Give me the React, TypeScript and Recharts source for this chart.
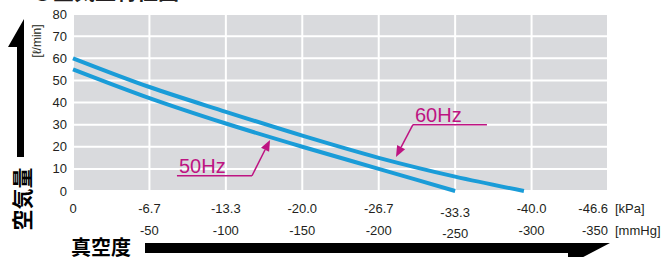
import { LineChart, Line, XAxis, YAxis, CartesianGrid, ReferenceLine } from 'recharts'

// x positions in mmHg (vacuum), y in l/min
const mmHgTicks = [0, 50, 100, 150, 200, 250, 300, 350]
const kPaLabels = ['0', '-6.7', '-13.3', '-20.0', '-26.7', '-33.3', '-40.0', '-46.6']
const mmHgLabels = ['', '-50', '-100', '-150', '-200', '-250', '-300', '-350']
const flowTicks = [0, 10, 20, 30, 40, 50, 60, 70, 80]

const vac60 = [0, 50, 100, 150, 200, 250, 295]
const flow60 = [60, 47, 35.8, 25, 15, 6.5, 0]
const vac50 = [0, 50, 100, 150, 200, 250]
const flow50 = [55, 42, 30.5, 20, 10, 0]

const data60 = vac60.map((v, i) => ({ vac: v, flow: flow60[i] }))
const data50 = vac50.map((v, i) => ({ vac: v, flow: flow50[i] }))

const BLUE = '#1a9cd8'
const MAGENTA = '#be1482'
const FONT = '"Liberation Sans", Arial, sans-serif'
const CJK = '"Noto Sans CJK JP", "Noto Sans CJK SC", sans-serif'

const XTick = (props: any) => {
  const { x, y, payload } = props
  const i = mmHgTicks.indexOf(payload.value)
  const last = i === mmHgTicks.length - 1
  const drop = payload.value === 250 ? 3.5 : 0
  const anchor = last ? 'end' : 'middle'
  return (
    <g fontFamily={FONT} fontSize={13} fill="#231f20">
      <text x={x} y={y + 22 + drop} textAnchor={anchor}>{kPaLabels[i]}</text>
      <text x={x} y={y + 43.5 + drop} textAnchor={anchor}>{mmHgLabels[i]}</text>
      {last && (
        <>
          <text x={x + 7} y={y + 22}>[kPa]</text>
          <text x={x + 7} y={y + 43.5}>[mmHg]</text>
        </>
      )}
    </g>
  )
}

// underline with the label sitting on it
const callout = (label: string) => (p: any) => (
  <g>
    <line x1={p.x1} y1={p.y1} x2={p.x2} y2={p.y2} stroke={MAGENTA} strokeWidth={1.5} />
    <text x={p.x1 + 2} y={p.y1 - 3} fill={MAGENTA} fontFamily={FONT} fontSize={20}>{label}</text>
  </g>
)

const arrow = (p: any) => {
  const dx = p.x2 - p.x1
  const dy = p.y2 - p.y1
  const len = Math.sqrt(dx * dx + dy * dy)
  const ux = dx / len
  const uy = dy / len
  const hl = 11
  const hw = 4.5
  const bx = p.x2 - ux * hl
  const by = p.y2 - uy * hl
  return (
    <g>
      <line x1={p.x1} y1={p.y1} x2={bx} y2={by} stroke={MAGENTA} strokeWidth={1.5} />
      <polygon
        points={`${p.x2},${p.y2} ${bx - uy * hw},${by + ux * hw} ${bx + uy * hw},${by - ux * hw}`}
        fill={MAGENTA}
      />
    </g>
  )
}

export default function App() {
  return (
    <div style={{ position: 'fixed', left: 0, top: 0, width: 664, height: 257, background: '#fff', overflow: 'hidden' }}>
      <LineChart width={664} height={257} margin={{ top: 14, right: 56, bottom: 0, left: 0 }}>
        <CartesianGrid fill="#d9dadd" fillOpacity={1} stroke="#ffffff" strokeWidth={2} />
        <XAxis
          type="number"
          dataKey="vac"
          domain={[0, 350]}
          ticks={mmHgTicks}
          axisLine={false}
          tickLine={false}
          tickSize={0}
          tickMargin={0}
          height={66}
          interval={0}
          tick={<XTick />}
        />
        <YAxis
          type="number"
          domain={[0, 80]}
          ticks={flowTicks}
          width={73}
          axisLine={false}
          tickLine={false}
          tickSize={0}
          tickMargin={6}
          interval={0}
          tick={{ fontFamily: FONT, fontSize: 13, fill: '#231f20' }}
        />
        <Line data={data60} dataKey="flow" type="monotone" stroke={BLUE} strokeWidth={4} dot={false} isAnimationActive={false} />
        <Line data={data50} dataKey="flow" type="monotone" stroke={BLUE} strokeWidth={4} dot={false} isAnimationActive={false} />
        <ReferenceLine segment={[{ x: 222.4, y: 30 }, { x: 270.8, y: 30 }]} shape={callout('60Hz')} />
        <ReferenceLine segment={[{ x: 222.4, y: 30 }, { x: 211.3, y: 15.4 }]} shape={arrow} />
        <ReferenceLine segment={[{ x: 68, y: 6.9 }, { x: 117.1, y: 6.9 }]} shape={callout('50Hz')} />
        <ReferenceLine segment={[{ x: 117.1, y: 6.9 }, { x: 128.9, y: 23.1 }]} shape={arrow} />
      </LineChart>
      <svg width={664} height={257} style={{ position: 'absolute', left: 0, top: 0, pointerEvents: 'none' }}>
        {/* title, cut off at the top edge like the source */}
        <text x={32} y={-1} fontFamily={CJK} fontWeight={700} fontSize={21} fill="#231f20">○空気量特性図</text>
        <polygon points="24,19 24,157 17,157 17,47 8,47" fill="#000" />
        <text x={37} y={41} transform="rotate(-90 37 41)" textAnchor="middle" dominantBaseline="central" fontFamily={FONT} fontSize={12} fill="#231f20">[ℓ/min]</text>
        <text x={21} y={199} transform="rotate(-90 21 199)" textAnchor="middle" dominantBaseline="central" fontFamily={CJK} fontWeight={700} fontSize={21} fill="#000">空気量</text>
        <text x={101} y={255} textAnchor="middle" fontFamily={CJK} fontWeight={700} fontSize={20} fill="#000">真空度</text>
        <polygon points="145,243 610,243 568,265 568,253 145,253" fill="#000" />
      </svg>
    </div>
  )
}
